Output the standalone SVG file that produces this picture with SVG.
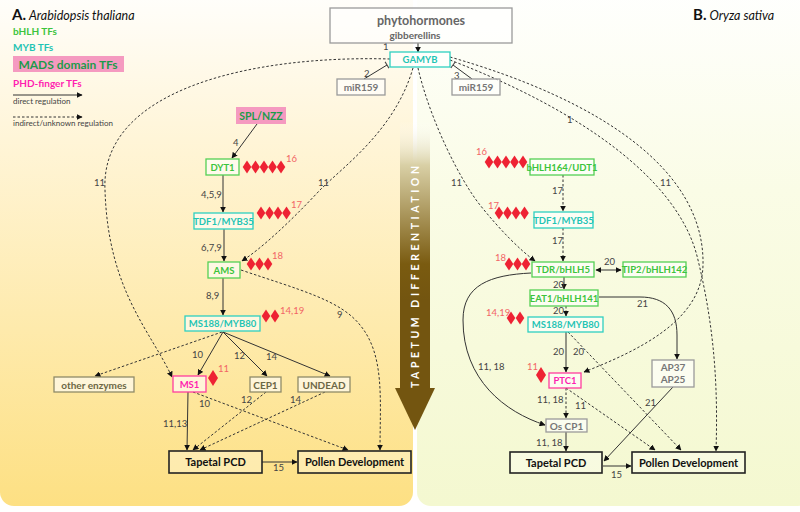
<svg xmlns="http://www.w3.org/2000/svg" width="800" height="512" viewBox="0 0 800 512">
<defs>
<linearGradient id="gA" x1="0" y1="0" x2="0" y2="1">
<stop offset="0" stop-color="#ffffff"/><stop offset="0.3" stop-color="#fff5d8"/><stop offset="1" stop-color="#fde083"/>
</linearGradient>
<linearGradient id="gB" x1="0" y1="0" x2="0" y2="1">
<stop offset="0" stop-color="#ffffff"/><stop offset="0.4" stop-color="#fafce6"/><stop offset="1" stop-color="#f4f8d0"/>
</linearGradient>
<linearGradient id="gArrow" gradientUnits="userSpaceOnUse" x1="0" y1="120" x2="0" y2="300">
<stop offset="0" stop-color="#ffffff" stop-opacity="0"/><stop offset="0.25" stop-color="#d9d0a6"/><stop offset="0.8" stop-color="#7a5b10"/><stop offset="1" stop-color="#735510"/>
</linearGradient>
<marker id="ah" viewBox="0 0 10 10" refX="9" refY="5" markerWidth="6" markerHeight="6" orient="auto-start-reverse" markerUnits="userSpaceOnUse">
<path d="M0,0 L10,5 L0,10 z" fill="#111"/>
</marker>
<marker id="tb" viewBox="0 0 4 10" refX="2" refY="5" markerWidth="3" markerHeight="8" orient="auto" markerUnits="userSpaceOnUse">
<path d="M2,0 L2,10" stroke="#444" stroke-width="1.5"/>
</marker>
<polygon id="dm" points="0,-6.5 4.3,0 0,6.5 -4.3,0" fill="#ee2233"/>
<polygon id="dmL" points="0,-8 5,0 0,8 -5,0" fill="#ee2233"/>
<style>
text{font-family:Lato,"Open Sans","Liberation Sans",sans-serif}
.box{fill:#fff;fill-opacity:0.6;stroke-width:1.3}
.g{stroke:#55d055}.gt{fill:#3cc43c;font-weight:bold;font-size:9.5px;text-anchor:middle}
.c{stroke:#2fd0c0}.ct{fill:#1fc4b4;font-weight:bold;font-size:9.5px;text-anchor:middle}
.m{stroke:#ff3d9e}.mt{fill:#ff1fb0;font-weight:bold;font-size:9.5px;text-anchor:middle}
.o{stroke:#8f8a68}.ot{fill:#6c6745;font-weight:bold;font-size:10px;text-anchor:middle}
.gr{stroke:#9a9a9a}.grt{fill:#777;font-weight:bold;font-size:10px;text-anchor:middle}
.k{stroke:#222;stroke-width:1.6;fill:#fff;fill-opacity:0.3}.kt{fill:#111;font-weight:bold;font-size:11px;text-anchor:middle}
.sl{fill:none;stroke:#333;stroke-width:1}
.dl{fill:none;stroke:#333;stroke-width:1;stroke-dasharray:2.5,2}
.n{fill:#444;font-size:9.5px}
.r{fill:#f26565;font-size:9.5px}
</style>
</defs>

<g id="background">
<rect x="0" y="-20" width="413" height="526" rx="14" fill="url(#gA)"/>
<rect x="417" y="-20" width="395" height="526" rx="14" fill="url(#gB)"/>
</g>

<g id="differentiation-arrow">
<rect x="400" y="122" width="30" height="268" fill="url(#gArrow)"/>
<polygon points="395,388 435,388 415,430" fill="#735510"/>
<text transform="translate(419,277) rotate(-90)" font-size="10.5" font-weight="bold" fill="#fff" text-anchor="middle" textLength="222" lengthAdjust="spacing">TAPETUM DIFFERENTIATION</text>
</g>

<g id="legend">
<text x="12" y="20" font-size="15" font-weight="bold" fill="#111">A.<tspan font-size="12.5" font-style="italic" font-weight="normal" dx="3">Arabidopsis thaliana</tspan></text>
<text x="13" y="35" font-size="10" font-weight="bold" fill="#3cc43c">bHLH TFs</text>
<text x="13" y="51" font-size="10" font-weight="bold" fill="#1fc4b4">MYB TFs</text>
<rect x="13" y="56" width="111" height="16" fill="#f59ac0"/>
<text x="68" y="68.5" font-size="12" font-weight="bold" fill="#1d9a4a" text-anchor="middle">MADS domain TFs</text>
<text x="13" y="87" font-size="10" font-weight="bold" fill="#ff1fb0">PHD-finger TFs</text>
<path d="M13,95 L82,95" class="sl" marker-end="url(#ah)"/>
<text x="13" y="104" font-size="8" fill="#444">direct regulation</text>
<path d="M13,117 L82,117" class="dl" marker-end="url(#ah)"/>
<text x="13" y="126" font-size="8" fill="#444">indirect/unknown regulation</text>
<text x="693" y="20" font-size="15" font-weight="bold" fill="#111">B.<tspan font-size="12.5" font-style="italic" font-weight="normal" dx="3">Oryza sativa</tspan></text>
</g>

<g id="connectors">
<path d="M418,43 L418,52" class="sl" marker-end="url(#ah)"/>
<path d="M364,79 L387,65" class="sl" stroke="#444" marker-end="url(#tb)"/>
<path d="M472,79 L453,65" class="sl" stroke="#444" marker-end="url(#tb)"/>
<path d="M390,59 C250,55 100,90 105,190 C108,290 150,330 172,377" class="dl" marker-end="url(#ah)"/>
<path d="M413,68 C395,130 345,165 320,190 C290,222 262,248 242,261" class="dl" marker-end="url(#ah)"/>
<path d="M418,68 C430,120 460,180 480,205 C500,230 520,250 535,261" class="dl" marker-end="url(#ah)"/>
<path d="M450,57 C600,100 705,170 703,265 C702,320 640,350 584,372" class="dl" marker-end="url(#ah)"/>
<path d="M450,60 C580,110 680,180 698,260 C715,330 718,390 716,451" class="dl" marker-end="url(#ah)"/>
<path d="M257,124 L232,158" class="sl" marker-end="url(#ah)"/>
<path d="M223,175 L223,212" class="sl" marker-end="url(#ah)"/>
<path d="M224,229 L224,261" class="sl" marker-end="url(#ah)"/>
<path d="M223,278 L223,315" class="sl" marker-end="url(#ah)"/>
<path d="M223,332 L198,375" class="sl" marker-end="url(#ah)"/>
<path d="M223,332 L267,376" class="sl" marker-end="url(#ah)"/>
<path d="M223,332 L330,376" class="sl" marker-end="url(#ah)"/>
<path d="M222,332 L95,376" class="dl" marker-end="url(#ah)"/>
<path d="M188,392 L187,450" class="sl" marker-end="url(#ah)"/>
<path d="M193,392 L348,450" class="dl" marker-end="url(#ah)"/>
<path d="M266,392 L193,450" class="dl" marker-end="url(#ah)"/>
<path d="M325,392 L200,450" class="dl" marker-end="url(#ah)"/>
<path d="M241,270 C300,290 340,300 360,325 C385,355 380,400 380,450" class="dl" marker-end="url(#ah)"/>
<path d="M262,462 L297,462" class="sl" marker-end="url(#ah)"/>
<path d="M563,175 L563,211" class="dl" marker-end="url(#ah)"/>
<path d="M563,228 L563,261" class="dl" marker-end="url(#ah)"/>
<path d="M596,270 L621,270" class="sl" marker-start="url(#ah)" marker-end="url(#ah)"/>
<path d="M564,277 L564,289" class="sl" marker-end="url(#ah)"/>
<path d="M599,297 L640,297 C665,297 677,310 677,335 L677,359" class="sl" marker-end="url(#ah)"/>
<path d="M566,306 L566,316" class="dl" marker-end="url(#ah)"/>
<path d="M566,332 L566,372" class="sl" marker-end="url(#ah)"/>
<path d="M568,332 L681,450" class="dl" marker-end="url(#ah)"/>
<path d="M566,388 L566,418" class="dl" marker-end="url(#ah)"/>
<path d="M566,388 L655,450" class="dl" marker-end="url(#ah)"/>
<path d="M531,273 C490,275 463,285 463,320 C463,380 505,412 545,425" class="sl" marker-end="url(#ah)"/>
<path d="M566,432 L566,451" class="sl" marker-end="url(#ah)"/>
<path d="M603,466 L631,466" class="sl" marker-end="url(#ah)"/>
<path d="M673,387 L604,461" class="sl" marker-end="url(#ah)"/>
</g>

<g id="edge-labels">
<text class="n" x="383" y="50">1</text>
<text class="n" x="364" y="77">2</text>
<text class="n" x="454" y="79">3</text>
<text class="n" x="94" y="186">11</text>
<text class="n" x="318" y="186">11</text>
<text class="n" x="451" y="186">11</text>
<text class="n" x="567" y="123">1</text>
<text class="n" x="660" y="186">11</text>
<text class="n" x="233" y="146">4</text>
<text class="n" x="201" y="198">4,5,9</text>
<text class="n" x="201" y="251">6,7,9</text>
<text class="n" x="206" y="299">8,9</text>
<text class="n" x="192" y="358">10</text>
<text class="n" x="234" y="359">12</text>
<text class="n" x="266" y="360">14</text>
<text class="n" x="199" y="407">10</text>
<text class="n" x="241" y="403">12</text>
<text class="n" x="290" y="403">14</text>
<text class="n" x="163" y="427">11,13</text>
<text class="n" x="337" y="318">9</text>
<text class="n" x="273" y="471">15</text>
<text class="n" x="552" y="194">17</text>
<text class="n" x="552" y="244">17</text>
<text class="n" x="604" y="265">20</text>
<text class="n" x="553" y="288">20</text>
<text class="n" x="553" y="314">20</text>
<text class="n" x="637" y="307">21</text>
<text class="n" x="553" y="355">20</text>
<text class="n" x="573" y="355">20</text>
<text class="n" x="478" y="370">11, 18</text>
<text class="n" x="537" y="403">11, 18</text>
<text class="n" x="575" y="409">11</text>
<text class="n" x="536" y="446">11, 18</text>
<text class="n" x="645" y="406">21</text>
<text class="n" x="611" y="478">15</text>
</g>

<g id="phytohormones">
<rect x="330" y="8" width="182" height="35" class="box gr" fill="#fff"/>
<text x="421" y="25" font-size="12.5" font-weight="bold" fill="#666" text-anchor="middle">phytohormones</text>
<text x="415" y="38.5" font-size="10" font-weight="bold" fill="#666" text-anchor="middle">gibberellins</text>
</g>
<g id="GAMYB"><rect x="390" y="52" width="60" height="15" class="box c" fill="#fff"/><text x="420" y="63" class="ct">GAMYB</text></g>
<g id="miR159-a"><rect x="337" y="79" width="48" height="16" class="box gr"/><text x="361" y="91" class="grt">miR159</text></g>
<g id="miR159-b"><rect x="452" y="79" width="48" height="16" class="box gr"/><text x="476" y="91" class="grt">miR159</text></g>

<g id="SPL-NZZ"><rect x="236" y="107" width="50" height="17" fill="#f59ac0"/><text x="261" y="119.5" font-size="10.5" font-weight="bold" fill="#1d9a4a" text-anchor="middle">SPL/NZZ</text></g>
<g id="DYT1"><rect x="206" y="159" width="33" height="16" class="box g"/><text x="222.5" y="170.5" class="gt">DYT1</text>
<use href="#dm" x="247" y="167"/><use href="#dm" x="255.5" y="167"/><use href="#dm" x="264" y="167"/><use href="#dm" x="272.5" y="167"/><use href="#dm" x="281" y="167"/><text class="r" x="286" y="162">16</text></g>
<g id="TDF1-A"><rect x="194" y="213" width="59" height="16" class="box c"/><text x="223.5" y="224.5" class="ct">TDF1/MYB35</text>
<use href="#dm" x="261" y="213"/><use href="#dm" x="269.5" y="213"/><use href="#dm" x="278" y="213"/><use href="#dm" x="286.5" y="213"/><text class="r" x="291" y="208">17</text></g>
<g id="AMS"><rect x="208" y="262" width="32" height="16" class="box g"/><text x="224" y="273.5" class="gt">AMS</text>
<use href="#dm" x="251" y="264"/><use href="#dm" x="259.5" y="264"/><use href="#dm" x="268" y="264"/><text class="r" x="272" y="259">18</text></g>
<g id="MS188-A"><rect x="185" y="316" width="75" height="15" class="box c"/><text x="222.5" y="327" class="ct">MS188/MYB80</text>
<use href="#dm" x="266" y="316"/><use href="#dm" x="275" y="316"/><text class="r" x="280" y="314">14,19</text></g>
<g id="other-enzymes"><rect x="54" y="377" width="80" height="15" class="box o"/><text x="94" y="388.5" class="ot">other enzymes</text></g>
<g id="MS1"><rect x="173" y="376" width="33" height="16" class="box m"/><text x="189.5" y="387.5" class="mt">MS1</text>
<use href="#dmL" x="213" y="378"/><text class="r" x="218" y="372">11</text></g>
<g id="CEP1"><rect x="250" y="377" width="31" height="15" class="box o"/><text x="265.5" y="388.5" class="ot">CEP1</text></g>
<g id="UNDEAD"><rect x="298" y="377" width="52" height="15" class="box o"/><text x="324" y="388.5" class="ot">UNDEAD</text></g>
<g id="TapetalPCD-A"><rect x="169" y="451" width="93" height="22" class="k"/><text x="215.5" y="466" class="kt">Tapetal PCD</text></g>
<g id="Pollen-A"><rect x="298" y="451" width="113" height="22" class="k"/><text x="354.5" y="466" class="kt">Pollen Development</text></g>

<g id="UDT1"><rect x="530" y="159" width="64" height="16" class="box g"/><text x="562" y="170.5" class="gt">bHLH164/UDT1</text>
<use href="#dm" x="489" y="162"/><use href="#dm" x="497.5" y="162"/><use href="#dm" x="506" y="162"/><use href="#dm" x="514.5" y="162"/><use href="#dm" x="523" y="162"/><text class="r" x="476" y="155">16</text></g>
<g id="TDF1-B"><rect x="534" y="212" width="59" height="16" class="box c"/><text x="563.5" y="223.5" class="ct">TDF1/MYB35</text>
<use href="#dm" x="499" y="213"/><use href="#dm" x="507.5" y="213"/><use href="#dm" x="516" y="213"/><use href="#dm" x="524.5" y="213"/><text class="r" x="488" y="209">17</text></g>
<g id="TDR"><rect x="532" y="262" width="62" height="15" class="box g"/><text x="563" y="273" class="gt">TDR/bHLH5</text>
<use href="#dm" x="509" y="264"/><use href="#dm" x="517.5" y="264"/><use href="#dm" x="526" y="264"/><text class="r" x="495" y="261">18</text></g>
<g id="TIP2"><rect x="623" y="262" width="63" height="15" class="box g"/><text x="654.5" y="273" class="gt">TIP2/bHLH142</text></g>
<g id="EAT1"><rect x="530" y="290" width="68" height="16" class="box g"/><text x="564" y="301.5" class="gt">EAT1/bHLH141</text></g>
<g id="MS188-B"><rect x="528" y="317" width="75" height="15" class="box c"/><text x="565.5" y="328" class="ct">MS188/MYB80</text>
<use href="#dm" x="511" y="318"/><use href="#dm" x="520" y="318"/><text class="r" x="486" y="316">14,19</text></g>
<g id="PTC1"><rect x="549" y="373" width="32" height="15" class="box m"/><text x="565" y="384" class="mt">PTC1</text>
<use href="#dmL" x="541" y="375"/><text class="r" x="527" y="370">11</text></g>
<g id="AP37-AP25"><rect x="652" y="360" width="42" height="27" class="box gr" stroke="#888"/><text x="673" y="371" class="grt" font-size="9.5">AP37</text><text x="673" y="383" class="grt" font-size="9.5">AP25</text></g>
<g id="OsCP1"><rect x="546" y="419" width="41" height="13" class="box gr"/><text x="566.5" y="429.5" class="grt" font-weight="normal">Os CP1</text></g>
<g id="TapetalPCD-B"><rect x="510" y="452" width="92" height="21" class="k"/><text x="556" y="466.5" class="kt">Tapetal PCD</text></g>
<g id="Pollen-B"><rect x="632" y="452" width="113" height="21" class="k"/><text x="688.5" y="466.5" class="kt">Pollen Development</text></g>
</svg>
